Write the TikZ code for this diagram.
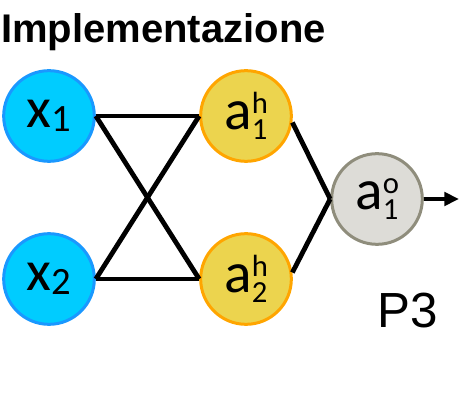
\documentclass[tikz,border=0pt]{standalone}
\usepackage{fontspec}
\setmainfont{Liberation Sans}
\newfontfamily\lblfont{Carlito}
\usetikzlibrary{arrows.meta}
\definecolor{infill}{HTML}{00CCFF}
\definecolor{inedge}{HTML}{1A98FF}
\definecolor{hidfill}{HTML}{ECD44E}
\definecolor{hidedge}{HTML}{FFA500}
\definecolor{outfill}{HTML}{DDDCD7}
\definecolor{outedge}{HTML}{8F8D7C}
\newcommand{\inlab}[2]{#1\raisebox{-0.06em}{\fontsize{29}{29}\selectfont #2}}
\newcommand{\neulab}[3]{#1\rlap{\raisebox{0.27em}{\fontsize{23}{23}\selectfont #2}}\raisebox{-0.18em}{\fontsize{23}{23}\selectfont #3}}
\tikzset{
  neuron/.style={circle,minimum size=68pt,inner sep=0pt,line width=2.25pt,
    font=\lblfont\fontsize{43}{43}\selectfont},
  innode/.style={neuron,draw=inedge,fill=infill},
  hidnode/.style={neuron,draw=hidedge,fill=hidfill},
  outnode/.style={neuron,draw=outedge,fill=outfill},
  conn/.style={line width=3.6pt},
}
\begin{document}
\begin{tikzpicture}[x=0.75pt,y=-0.75pt]
  \useasboundingbox (0,0) rectangle (460,398);
  % title and panel tag
  \node[anchor=base west,inner sep=0pt,font=\bfseries\fontsize{30}{31}\selectfont] (title) at (1,43) {Implementazione};
  \node[anchor=base west,inner sep=0pt,font=\fontsize{37}{40}\selectfont] (ptag) at (377,328) {P3};
  % neurons
  \node[innode] (x1) at (49,116) {\inlab{x}{1}};
  \node[innode] (x2) at (49,279) {\inlab{x}{2}};
  \node[hidnode] (h1) at (246,116) {\neulab{a}{h}{1}};
  \node[hidnode] (h2) at (246,279) {\neulab{a}{h}{2}};
  \node[outnode] (o1) at (377,199) {\neulab{a}{o}{1}};
  \coordinate (out) at (459,199);
  % connections
  \draw[conn] (x1.east) -- (h1.west);
  \draw[conn] (x1.east) -- (h2.west);
  \draw[conn] (x2.east) -- (h1.west);
  \draw[conn] (x2.east) -- (h2.west);
  \draw[conn] (h1.-8) -- (o1.west);
  \draw[conn] (h2.8) -- (o1.west);
  \draw[conn,-{Triangle[length=11pt,width=10pt]}] (o1.east) -- (out);
\end{tikzpicture}
\end{document}
